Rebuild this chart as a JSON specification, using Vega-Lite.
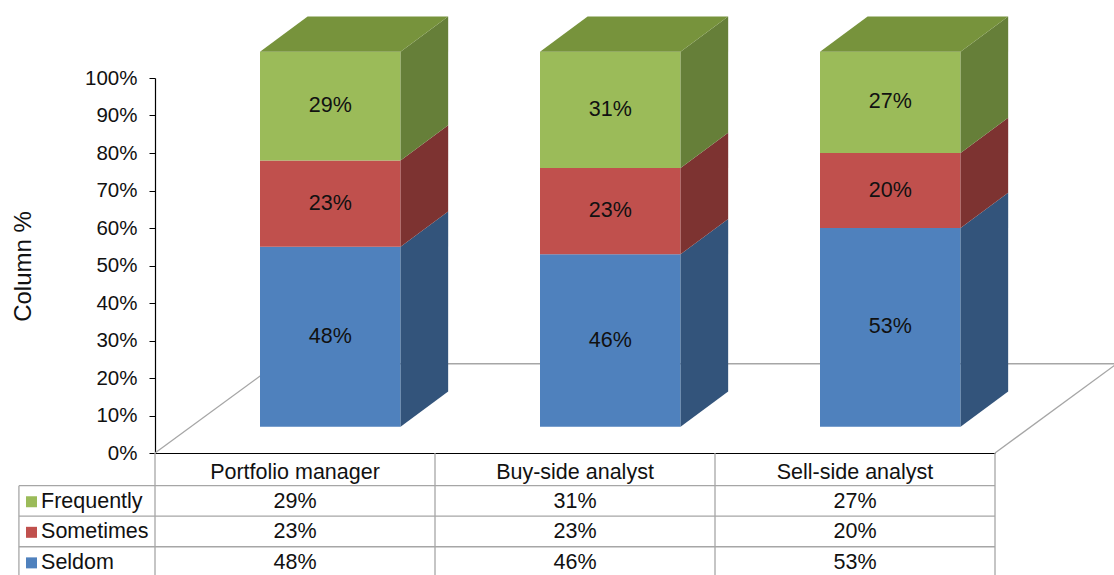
{
  "$schema": "https://vega.github.io/schema/vega-lite/v6.json",
  "width": 840,
  "height": 375,
  "autosize": {"type": "none"},
  "padding": {"left": 155, "top": 78, "right": 119, "bottom": 122},
  "background": "white",
  "config": {
    "view": {"stroke": null},
    "font": "Liberation Sans",
    "text": {"font": "Liberation Sans", "fontSize": 21.5, "color": "#111111"}
  },
  "datasets": {
    "survey": [
      {"category": "Portfolio manager", "series": "Seldom", "value": 48},
      {"category": "Portfolio manager", "series": "Sometimes", "value": 23},
      {"category": "Portfolio manager", "series": "Frequently", "value": 29},
      {"category": "Buy-side analyst", "series": "Seldom", "value": 46},
      {"category": "Buy-side analyst", "series": "Sometimes", "value": 23},
      {"category": "Buy-side analyst", "series": "Frequently", "value": 31},
      {"category": "Sell-side analyst", "series": "Seldom", "value": 53},
      {"category": "Sell-side analyst", "series": "Sometimes", "value": 20},
      {"category": "Sell-side analyst", "series": "Frequently", "value": 27}
    ]
  },
  "data": {"name": "survey"},
  "transform": [
    {"calculate": "indexof(['Portfolio manager','Buy-side analyst','Sell-side analyst'], datum.category)", "as": "idx"},
    {"calculate": "indexof(['Seldom','Sometimes','Frequently'], datum.series)", "as": "ord"},
    {"stack": "value", "groupby": ["category"], "sort": [{"field": "ord", "order": "ascending"}], "as": ["v0", "v1"]},
    {"calculate": "datum.idx+0.375", "as": "xl"},
    {"calculate": "datum.idx+0.877", "as": "xr"},
    {"calculate": "datum.v0+7", "as": "y0"},
    {"calculate": "datum.v1+7", "as": "y1"},
    {"calculate": "(datum.y0+datum.y1)/2", "as": "ym"},
    {"calculate": "datum.idx+0.626", "as": "bx"},
    {"calculate": "datum.idx+0.5", "as": "cx"},
    {"calculate": "-13-8.15*(2-datum.ord)", "as": "rowy"},
    {"calculate": "datum.rowy+4.3", "as": "rowtop"},
    {"calculate": "datum.value+'%'", "as": "label"}
  ],
  "layer": [
    {
      "transform": [{"filter": "datum.idx==0 && datum.ord==0"}],
      "mark": {"type": "rule", "color": "#A6A6A6", "strokeWidth": 1.3},
      "encoding": {
        "x": {"datum": 0, "type": "quantitative", "scale": {"domain": [0, 3], "nice": false, "zero": false}, "axis": null},
        "y": {"datum": 0, "type": "quantitative", "scale": {"domain": [0, 100], "nice": false, "zero": false}, "axis": null},
        "x2": {"datum": 0.435},
        "y2": {"datum": 23.8}
      }
    },
    {
      "transform": [{"filter": "datum.idx==0 && datum.ord==0"}],
      "mark": {"type": "rule", "color": "#A6A6A6", "strokeWidth": 1.3},
      "encoding": {
        "x": {"datum": 0.435, "type": "quantitative", "scale": {"domain": [0, 3], "nice": false, "zero": false}, "axis": null},
        "y": {"datum": 23.8, "type": "quantitative", "scale": {"domain": [0, 100], "nice": false, "zero": false}, "axis": null},
        "x2": {"datum": 3.435},
        "y2": {"datum": 23.8}
      }
    },
    {
      "transform": [{"filter": "datum.idx==0 && datum.ord==0"}],
      "mark": {"type": "rule", "color": "#A6A6A6", "strokeWidth": 1.3},
      "encoding": {
        "x": {"datum": 3, "type": "quantitative", "scale": {"domain": [0, 3], "nice": false, "zero": false}, "axis": null},
        "y": {"datum": 0, "type": "quantitative", "scale": {"domain": [0, 100], "nice": false, "zero": false}, "axis": null},
        "x2": {"datum": 3.435},
        "y2": {"datum": 23.8}
      }
    },
    {
      "mark": {"type": "rect"},
      "encoding": {
        "x": {"field": "xl", "type": "quantitative", "scale": {"domain": [0, 3], "nice": false, "zero": false},
              "axis": {"labels": false, "ticks": false, "grid": false, "title": null, "domainColor": "#000000", "domainWidth": 1.2}},
        "x2": {"field": "xr"},
        "y": {"field": "y0", "type": "quantitative", "stack": null, "scale": {"domain": [0, 100], "nice": false, "zero": false},
              "axis": {"values": [0, 10, 20, 30, 40, 50, 60, 70, 80, 90, 100], "labelExpr": "datum.value + '%'", "grid": false,
                       "labelFont": "Liberation Sans", "labelFontSize": 20.5, "labelColor": "#111111", "labelPadding": 12,
                       "tickSize": 6, "tickColor": "#000000", "domainColor": "#000000", "domainWidth": 1.2,
                       "title": "Column %", "titleFont": "Liberation Sans", "titleFontSize": 24, "titleFontWeight": "normal",
                       "titleColor": "#111111", "titleAngle": 270, "titleX": -132, "titleY": 188, "titleAlign": "center", "titleBaseline": "middle"}},
        "y2": {"field": "y1"},
        "color": {"field": "series", "type": "nominal", "legend": null,
                  "scale": {"domain": ["Frequently", "Sometimes", "Seldom"], "range": ["#9BBB59", "#C0504D", "#4F81BD"]}}
      }
    },
    {
      "transform": [
        {"calculate": "datum.xr", "as": "pa"},
        {"calculate": "datum.xr+0.17", "as": "pb"},
        {"fold": ["pa", "pb"], "as": ["pk", "px"]},
        {"calculate": "datum.pk=='pb' ? 9.4 : 0", "as": "off"},
        {"calculate": "datum.y0+datum.off", "as": "sy0"},
        {"calculate": "datum.y1+datum.off", "as": "sy1"}
      ],
      "mark": {"type": "area", "orient": "vertical"},
      "encoding": {
        "x": {"field": "px", "type": "quantitative", "scale": {"domain": [0, 3], "nice": false, "zero": false}, "axis": null},
        "y": {"field": "sy1", "type": "quantitative", "stack": null, "scale": {"domain": [0, 100], "nice": false, "zero": false}, "axis": null},
        "y2": {"field": "sy0"},
        "detail": {"field": "category"},
        "color": {"field": "series", "type": "nominal", "legend": null,
                  "scale": {"domain": ["Frequently", "Sometimes", "Seldom"], "range": ["#667F39", "#7D3331", "#33547B"]}}
      }
    },
    {
      "transform": [
        {"filter": "datum.ord==2"},
        {"calculate": "datum.xl", "as": "t1"},
        {"calculate": "datum.xl+0.17", "as": "t2"},
        {"calculate": "datum.xr", "as": "t3"},
        {"calculate": "datum.xr+0.17", "as": "t4"},
        {"fold": ["t1", "t2", "t3", "t4"], "as": ["tk", "tx"]},
        {"calculate": "datum.tk=='t4' ? datum.y1+9.4 : datum.y1", "as": "ta"},
        {"calculate": "datum.tk=='t1' ? datum.y1 : datum.y1+9.4", "as": "tb"}
      ],
      "mark": {"type": "area", "orient": "vertical", "color": "#77933C"},
      "encoding": {
        "x": {"field": "tx", "type": "quantitative", "scale": {"domain": [0, 3], "nice": false, "zero": false}, "axis": null},
        "y": {"field": "tb", "type": "quantitative", "stack": null, "scale": {"domain": [0, 100], "nice": false, "zero": false}, "axis": null},
        "y2": {"field": "ta"},
        "detail": {"field": "category"}
      }
    },
    {
      "mark": {"type": "text", "align": "center", "baseline": "middle"},
      "encoding": {
        "x": {"field": "bx", "type": "quantitative", "scale": {"domain": [0, 3], "nice": false, "zero": false}, "axis": null},
        "y": {"field": "ym", "type": "quantitative", "stack": null, "scale": {"domain": [0, 100], "nice": false, "zero": false}, "axis": null},
        "text": {"field": "label"}
      }
    },
    {
      "transform": [{"filter": "datum.ord==0"}],
      "mark": {"type": "rule", "color": "#A6A6A6", "strokeWidth": 1.3},
      "encoding": {
        "x": {"field": "idx", "type": "quantitative", "scale": {"domain": [0, 3], "nice": false, "zero": false}, "axis": null},
        "y": {"datum": 0, "type": "quantitative", "scale": {"domain": [0, 100], "nice": false, "zero": false}, "axis": null},
        "y2": {"datum": -34}
      }
    },
    {
      "transform": [{"filter": "datum.idx==0 && datum.ord==0"}],
      "mark": {"type": "rule", "color": "#A6A6A6", "strokeWidth": 1.3},
      "encoding": {
        "x": {"datum": 3, "type": "quantitative", "scale": {"domain": [0, 3], "nice": false, "zero": false}, "axis": null},
        "y": {"datum": 0, "type": "quantitative", "scale": {"domain": [0, 100], "nice": false, "zero": false}, "axis": null},
        "y2": {"datum": -34}
      }
    },
    {
      "transform": [{"filter": "datum.idx==0 && datum.ord==2"}],
      "mark": {"type": "rule", "color": "#A6A6A6", "strokeWidth": 1.3},
      "encoding": {
        "x": {"datum": -0.486, "type": "quantitative", "scale": {"domain": [0, 3], "nice": false, "zero": false}, "axis": null},
        "y": {"field": "rowtop", "type": "quantitative", "scale": {"domain": [0, 100], "nice": false, "zero": false}, "axis": null},
        "y2": {"datum": -34}
      }
    },
    {
      "transform": [{"filter": "datum.idx==0"}],
      "mark": {"type": "rule", "color": "#A6A6A6", "strokeWidth": 1.3},
      "encoding": {
        "x": {"datum": -0.486, "type": "quantitative", "scale": {"domain": [0, 3], "nice": false, "zero": false}, "axis": null},
        "x2": {"datum": 3},
        "y": {"field": "rowtop", "type": "quantitative", "scale": {"domain": [0, 100], "nice": false, "zero": false}, "axis": null}
      }
    },
    {
      "transform": [{"filter": "datum.ord==0"}],
      "mark": {"type": "text", "align": "center", "baseline": "middle"},
      "encoding": {
        "x": {"field": "cx", "type": "quantitative", "scale": {"domain": [0, 3], "nice": false, "zero": false}, "axis": null},
        "y": {"datum": -5.3, "type": "quantitative", "scale": {"domain": [0, 100], "nice": false, "zero": false}, "axis": null},
        "text": {"field": "category"}
      }
    },
    {
      "mark": {"type": "text", "align": "center", "baseline": "middle"},
      "encoding": {
        "x": {"field": "cx", "type": "quantitative", "scale": {"domain": [0, 3], "nice": false, "zero": false}, "axis": null},
        "y": {"field": "rowy", "type": "quantitative", "stack": null, "scale": {"domain": [0, 100], "nice": false, "zero": false}, "axis": null},
        "text": {"field": "label"}
      }
    },
    {
      "transform": [{"filter": "datum.idx==0"}],
      "mark": {"type": "point", "shape": "square", "filled": true, "size": 121, "opacity": 1},
      "encoding": {
        "x": {"datum": -0.441, "type": "quantitative", "scale": {"domain": [0, 3], "nice": false, "zero": false}, "axis": null},
        "y": {"field": "rowy", "type": "quantitative", "stack": null, "scale": {"domain": [0, 100], "nice": false, "zero": false}, "axis": null},
        "color": {"field": "series", "type": "nominal", "legend": null,
                  "scale": {"domain": ["Frequently", "Sometimes", "Seldom"], "range": ["#9BBB59", "#C0504D", "#4F81BD"]}}
      }
    },
    {
      "transform": [{"filter": "datum.idx==0"}],
      "mark": {"type": "text", "align": "left", "baseline": "middle"},
      "encoding": {
        "x": {"datum": -0.407, "type": "quantitative", "scale": {"domain": [0, 3], "nice": false, "zero": false}, "axis": null},
        "y": {"field": "rowy", "type": "quantitative", "stack": null, "scale": {"domain": [0, 100], "nice": false, "zero": false}, "axis": null},
        "text": {"field": "series"}
      }
    }
  ],
  "resolve": {"scale": {"color": "independent"}, "axis": {"x": "independent", "y": "independent"}}
}
